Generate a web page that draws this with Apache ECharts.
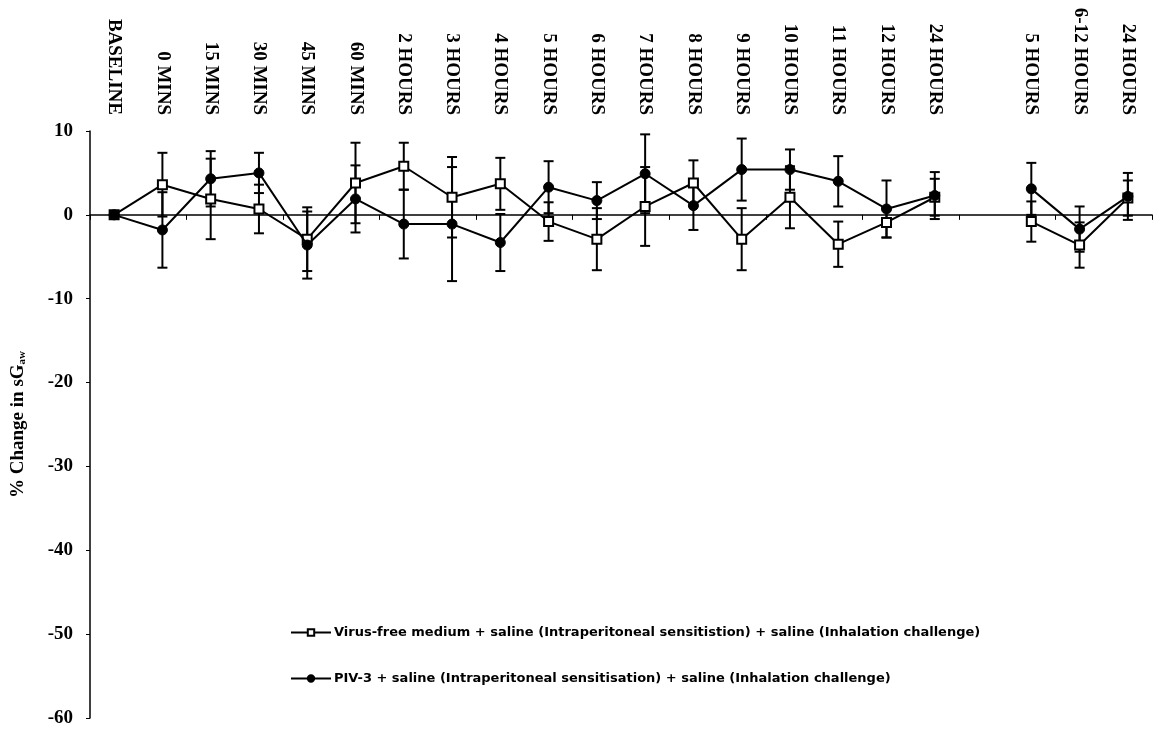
<!DOCTYPE html>
<html><head><meta charset="utf-8">
<script src="https://cdn.jsdelivr.net/npm/echarts@6/dist/echarts.min.js"></script>
<style>html,body{margin:0;padding:0;background:#fff}#c{width:1157px;height:732px}</style>
</head><body><div id="c"></div>
<script>
const categories = ['BASELINE','0 MINS','15 MINS','30 MINS','45 MINS','60 MINS','2 HOURS','3 HOURS','4 HOURS','5 HOURS','6 HOURS','7 HOURS','8 HOURS','9 HOURS','10 HOURS','11 HOURS','12 HOURS','24 HOURS','','5 HOURS','6-12 HOURS','24 HOURS'];
const yTicks = [10, 0, -10, -20, -30, -40, -50, -60];
const vfName = 'Virus-free medium + saline (Intraperitoneal sensitistion) + saline (Inhalation challenge)';
const pivName = 'PIV-3 + saline (Intraperitoneal sensitisation) + saline (Inhalation challenge)';
const vfMean = [0, 3.6, 1.9, 0.7, -2.9, 3.8, 5.8, 2.1, 3.7, -0.8, -2.9, 1.0, 3.8, -2.9, 2.1, -3.5, -0.9, 2.1, null, -0.8, -3.6, 2.0];
const vfErr  = [0, 3.8, 4.8, 2.9, 3.8, 4.8, 2.8, 4.8, 3.1, 2.3, 3.7, 4.7, 2.7, 3.7, 3.7, 2.7, 1.8, 2.2, null, 2.4, 2.7, 2.1];
const pivMean = [0, -1.8, 4.3, 5.0, -3.6, 1.9, -1.1, -1.1, -3.3, 3.3, 1.7, 4.9, 1.1, 5.4, 5.4, 4.0, 0.7, 2.3, null, 3.1, -1.7, 2.2];
const pivErr  = [0, 4.5, 3.3, 2.4, 4.0, 4.0, 4.1, 6.8, 3.4, 3.1, 2.2, 4.7, 2.9, 3.7, 2.4, 3.0, 3.4, 2.8, null, 3.1, 2.7, 2.8];

function errData(mean, err) {
  const out = [];
  mean.forEach((m, i) => {
    if (m !== null && err[i]) out.push([i, m - err[i], m + err[i]]);
  });
  return out;
}
function renderErr(params, api) {
  const x = api.value(0);
  const lo = api.coord([x, api.value(1)]);
  const hi = api.coord([x, api.value(2)]);
  const w = 5;
  const st = { stroke: '#000', lineWidth: 2 };
  return { type: 'group', children: [
    { type: 'line', shape: { x1: lo[0], y1: lo[1], x2: hi[0], y2: hi[1] }, style: st },
    { type: 'line', shape: { x1: lo[0]-w, y1: lo[1], x2: lo[0]+w, y2: lo[1] }, style: st },
    { type: 'line', shape: { x1: hi[0]-w, y1: hi[1], x2: hi[0]+w, y2: hi[1] }, style: st }
  ]};
}
const serif = '"Liberation Serif", "DejaVu Serif", serif';
const chart = echarts.init(document.getElementById('c'));
chart.setOption({
  animation: false,
  backgroundColor: '#fff',
  grid: { left: 90, right: 5, top: 131, bottom: 14, containLabel: false },
  legend: {
    orient: 'vertical', left: 285, top: 621, itemGap: 33, itemWidth: 40, itemHeight: 8,
    data: [vfName, pivName],
    textStyle: { fontFamily: '"DejaVu Sans", sans-serif', fontWeight: 'bold', fontSize: 13, color: '#000', padding: [0,0,0,-2] }
  },
  xAxis: [
    { type: 'category', data: categories, position: 'top', boundaryGap: true,
      axisLine: { show: false, onZero: false }, axisTick: { show: false },
      axisLabel: { interval: 0, rotate: 90, margin: 16, color: '#000', fontFamily: serif, fontWeight: 'bold', fontSize: 19 } },
    { type: 'category', data: categories, position: 'bottom', boundaryGap: true,
      axisLine: { show: true, onZero: true, lineStyle: { color: '#000', width: 1.5 } },
      axisTick: { show: true, length: 5, lineStyle: { color: '#000', width: 1 } },
      axisLabel: { show: false } }
  ],
  yAxis: {
    type: 'value', min: -60, max: 10, interval: 10,
    name: '{a|% Change in sG}{s|aw}', nameLocation: 'middle', nameGap: 62, nameRotate: 90,
    nameTextStyle: { rich: {
      a: { fontFamily: serif, fontWeight: 'bold', fontSize: 19, color: '#000' },
      s: { fontFamily: serif, fontWeight: 'bold', fontSize: 11, color: '#000', padding: [8, 0, 0, 0] } } },
    axisLine: { show: true, onZero: false, lineStyle: { color: '#000', width: 1.5 } },
    axisTick: { show: true, length: 4, lineStyle: { color: '#000' } },
    splitLine: { show: false },
    axisLabel: { margin: 17, color: '#000', fontFamily: serif, fontWeight: 'bold', fontSize: 19,
      formatter: v => yTicks.includes(v) ? String(v) : '' }
  },
  series: [
    { type: 'custom', xAxisIndex: 1, renderItem: renderErr, data: errData(vfMean, vfErr), z: 1, silent: true, encode: { x: 0, y: [1, 2] } },
    { type: 'custom', xAxisIndex: 1, renderItem: renderErr, data: errData(pivMean, pivErr), z: 1, silent: true, encode: { x: 0, y: [1, 2] } },
    { name: vfName, type: 'line', xAxisIndex: 1, data: vfMean, connectNulls: false, z: 3,
      symbol: 'rect', symbolSize: 9, lineStyle: { color: '#000', width: 2 },
      itemStyle: { color: '#fff', borderColor: '#000', borderWidth: 2 } },
    { name: pivName, type: 'line', xAxisIndex: 1, data: pivMean, connectNulls: false, z: 4,
      symbol: 'circle', symbolSize: 10, lineStyle: { color: '#000', width: 2 },
      itemStyle: { color: '#000', borderColor: '#000', borderWidth: 1 } }
  ]
});
</script></body></html>
